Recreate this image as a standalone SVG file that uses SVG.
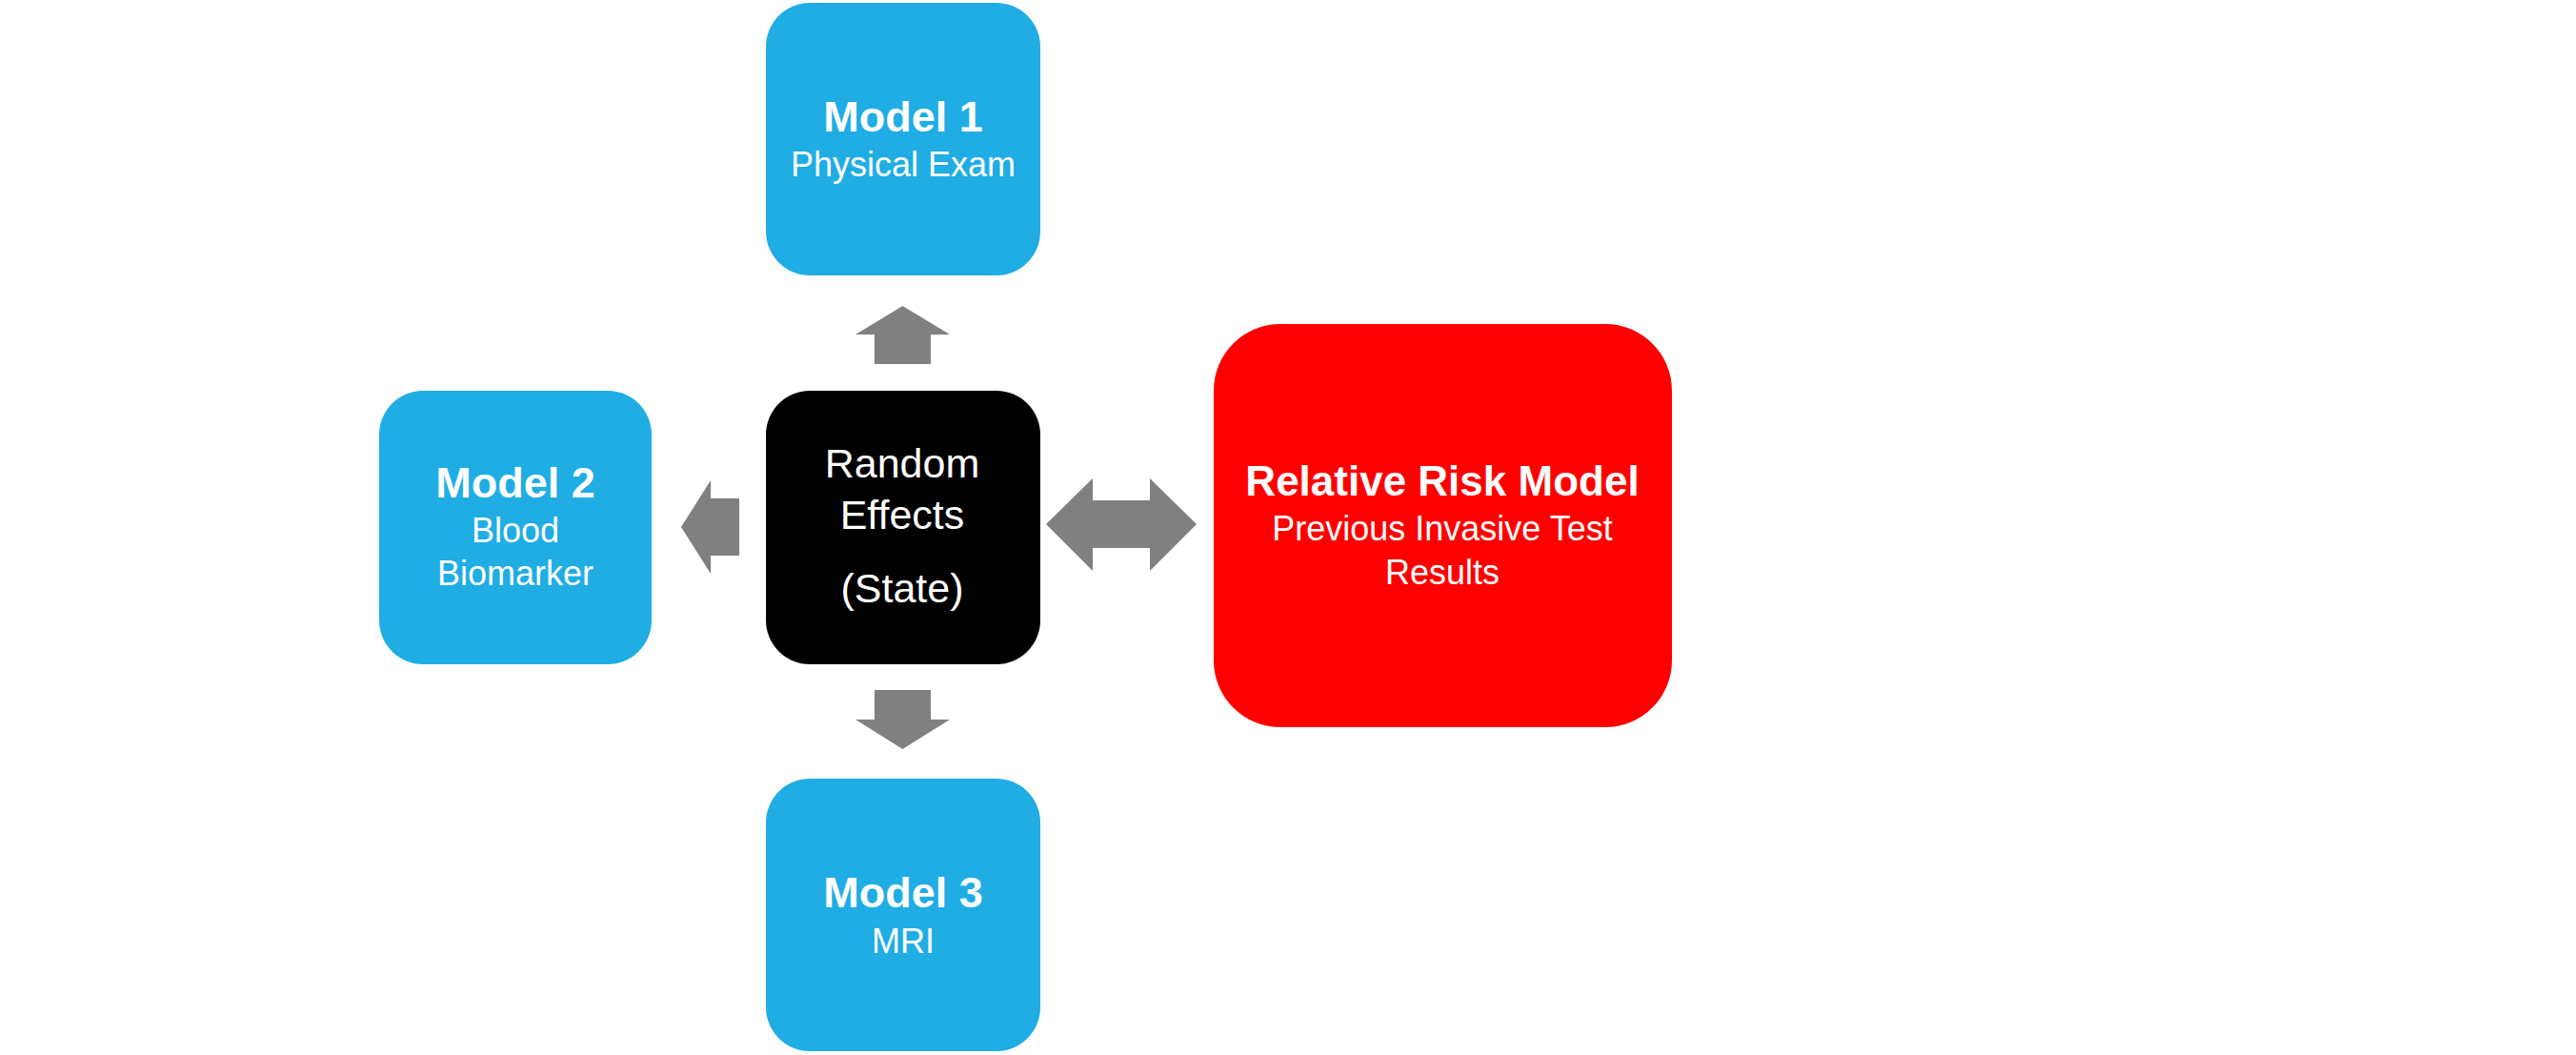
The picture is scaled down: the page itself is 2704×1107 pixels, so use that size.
<svg xmlns="http://www.w3.org/2000/svg" width="2704" height="1107" viewBox="0 0 2704 1107">
<style>
.bx{fill:#1FADE4}
.t{font-family:"Liberation Sans",Arial,sans-serif;fill:#FFFFFF;text-anchor:middle}
.b{font-weight:bold;font-size:45px}
.r{font-size:36px}
.re{font-size:43px}
.arr{fill:#808080}
</style>
<rect width="2704" height="1107" fill="#FFFFFF"/>
<g id="connectors">
<polygon class="arr" points="947.5,321 997,351 977,351 977,382 918,382 918,351 898,351"/>
<polygon class="arr" points="918,724 977,724 977,755 997,755 947.5,786 898,755 918,755"/>
<polygon class="arr" points="715,553 746,504 746,523 776,523 776,583 746,583 746,602"/>
<polygon class="arr" points="1098,550 1147,502 1147,525 1207,525 1207,502 1256,550 1207,599 1207,575 1147,575 1147,599"/>
</g>
<g id="model1">
<rect class="bx" x="804" y="3" width="288" height="286" rx="46"/>
<text class="t b" x="948" y="138">Model 1</text>
<text class="t r" x="948" y="185">Physical Exam</text>
</g>
<g id="model2">
<rect class="bx" x="398" y="410" width="286" height="287" rx="46"/>
<text class="t b" x="541" y="522">Model 2</text>
<text class="t r" x="541" y="569">Blood</text>
<text class="t r" x="541" y="614">Biomarker</text>
</g>
<g id="random-effects">
<rect x="804" y="410" width="288" height="287" rx="46" fill="#000000"/>
<text class="t re" x="947" y="501">Random</text>
<text class="t re" x="947" y="555">Effects</text>
<text class="t re" x="947" y="632">(State)</text>
</g>
<g id="model3">
<rect class="bx" x="804" y="817" width="288" height="286" rx="46"/>
<text class="t b" x="948" y="952">Model 3</text>
<text class="t r" x="948" y="1000">MRI</text>
</g>
<g id="relative-risk">
<rect x="1274" y="340" width="481" height="423" rx="70" fill="#FF0000"/>
<text class="t b" x="1514" y="520" style="font-size:44px">Relative Risk Model</text>
<text class="t r" x="1514" y="567">Previous Invasive Test</text>
<text class="t r" x="1514" y="613">Results</text>
</g>
</svg>
